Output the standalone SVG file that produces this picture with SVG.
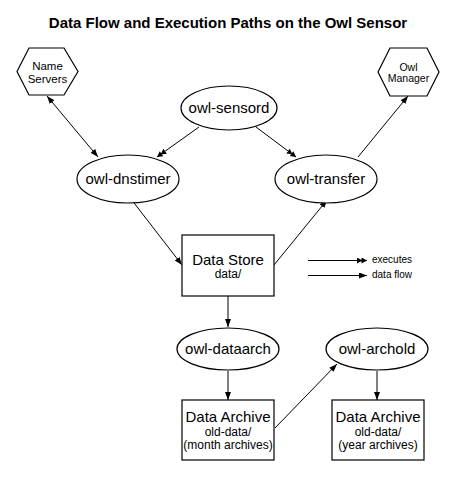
<svg xmlns="http://www.w3.org/2000/svg" width="461" height="481" viewBox="0 0 461 481">
<style>
  .shape { fill: #ffffff; stroke: #000000; stroke-width: 1.2; }
  .edge { fill: none; stroke: #000000; stroke-width: 1; }
  text { font-family: "Liberation Sans", Arial, sans-serif; fill: #000000; text-anchor: middle; }
  .main { font-size: 15px; }
  .sub { font-size: 12px; }
  .hex1 { font-size: 11.5px; }
  .hex2 { font-size: 10.5px; }
  .legend { font-size: 10px; text-anchor: start; }
  .title { font-size: 15px; font-weight: bold; }
</style>
<defs>
  <marker id="arrow" markerUnits="userSpaceOnUse" markerWidth="9" markerHeight="7" refX="8" refY="3" orient="auto-start-reverse" viewBox="0 0 9 7">
    <path d="M0,0 L8,3 L0,6 z" fill="#000"/>
  </marker>
  <marker id="darrow" markerUnits="userSpaceOnUse" markerWidth="11" markerHeight="7" refX="10" refY="3" orient="auto" viewBox="0 0 11 7">
    <path d="M0,0 L5.5,3 L0,6 z M4.5,0 L10,3 L4.5,6 z" fill="#000"/>
  </marker>
</defs>

<text class="title" x="228" y="28">Data Flow and Execution Paths on the Owl Sensor</text>

<g id="connectors">
  <line class="edge" x1="47" y1="96" x2="98" y2="157" marker-start="url(#arrow)" marker-end="url(#arrow)"/>
  <line class="edge" x1="199" y1="127" x2="157" y2="157" marker-end="url(#darrow)"/>
  <line class="edge" x1="256" y1="127" x2="296" y2="157" marker-end="url(#darrow)"/>
  <line class="edge" x1="131" y1="199" x2="182" y2="265" marker-end="url(#arrow)"/>
  <line class="edge" x1="274" y1="265" x2="327" y2="200" marker-end="url(#arrow)"/>
  <line class="edge" x1="358" y1="157" x2="408" y2="96" marker-end="url(#arrow)"/>
  <line class="edge" x1="228" y1="296" x2="228" y2="327" marker-end="url(#arrow)"/>
  <line class="edge" x1="228" y1="371" x2="228" y2="400" marker-end="url(#arrow)"/>
  <line class="edge" x1="275" y1="428" x2="337" y2="364" marker-end="url(#arrow)"/>
  <line class="edge" x1="377" y1="371" x2="377" y2="400" marker-end="url(#arrow)"/>
</g>

<g id="legend">
  <line class="edge" x1="308" y1="260.5" x2="367" y2="260.5" marker-end="url(#darrow)"/>
  <text class="legend" x="372" y="263">executes</text>
  <line class="edge" x1="308" y1="275.5" x2="367" y2="275.5" marker-end="url(#arrow)"/>
  <text class="legend" x="372" y="278">data flow</text>
</g>

<g id="name-servers">
  <polygon class="shape" points="17,71.5 29,48 64,48 78,71.5 64,95 29,95"/>
  <text class="hex1" x="47.5" y="70">Name</text>
  <text class="hex1" x="47.5" y="83">Servers</text>
</g>

<g id="owl-manager">
  <polygon class="shape" points="378,72 390,48 427,48 439,72 427,96 390,96"/>
  <text class="hex2" x="408.5" y="71">Owl</text>
  <text class="hex2" x="408.5" y="82">Manager</text>
</g>

<g id="owl-sensord">
  <ellipse class="shape" cx="229" cy="108" rx="48" ry="22"/>
  <text class="main" x="229" y="113">owl-sensord</text>
</g>

<g id="owl-dnstimer">
  <ellipse class="shape" cx="128" cy="179" rx="51" ry="24"/>
  <text class="main" x="128" y="184">owl-dnstimer</text>
</g>

<g id="owl-transfer">
  <ellipse class="shape" cx="326" cy="179" rx="51" ry="24"/>
  <text class="main" x="326" y="184">owl-transfer</text>
</g>

<g id="data-store">
  <rect class="shape" x="182" y="235" width="92" height="61"/>
  <text class="main" x="228" y="265">Data Store</text>
  <text class="sub" x="228" y="278">data/</text>
</g>

<g id="owl-dataarch">
  <ellipse class="shape" cx="228" cy="349" rx="51" ry="21"/>
  <text class="main" x="228" y="354">owl-dataarch</text>
</g>

<g id="owl-archold">
  <ellipse class="shape" cx="377" cy="349" rx="51" ry="21"/>
  <text class="main" x="377" y="354">owl-archold</text>
</g>

<g id="data-archive-month">
  <rect class="shape" x="182" y="400" width="92" height="60"/>
  <text class="main" x="228" y="422">Data Archive</text>
  <text class="sub" x="228" y="436">old-data/</text>
  <text class="sub" x="228" y="449">(month archives)</text>
</g>

<g id="data-archive-year">
  <rect class="shape" x="332" y="400" width="92" height="60"/>
  <text class="main" x="378" y="422">Data Archive</text>
  <text class="sub" x="378" y="436">old-data/</text>
  <text class="sub" x="378" y="449">(year archives)</text>
</g>
</svg>
